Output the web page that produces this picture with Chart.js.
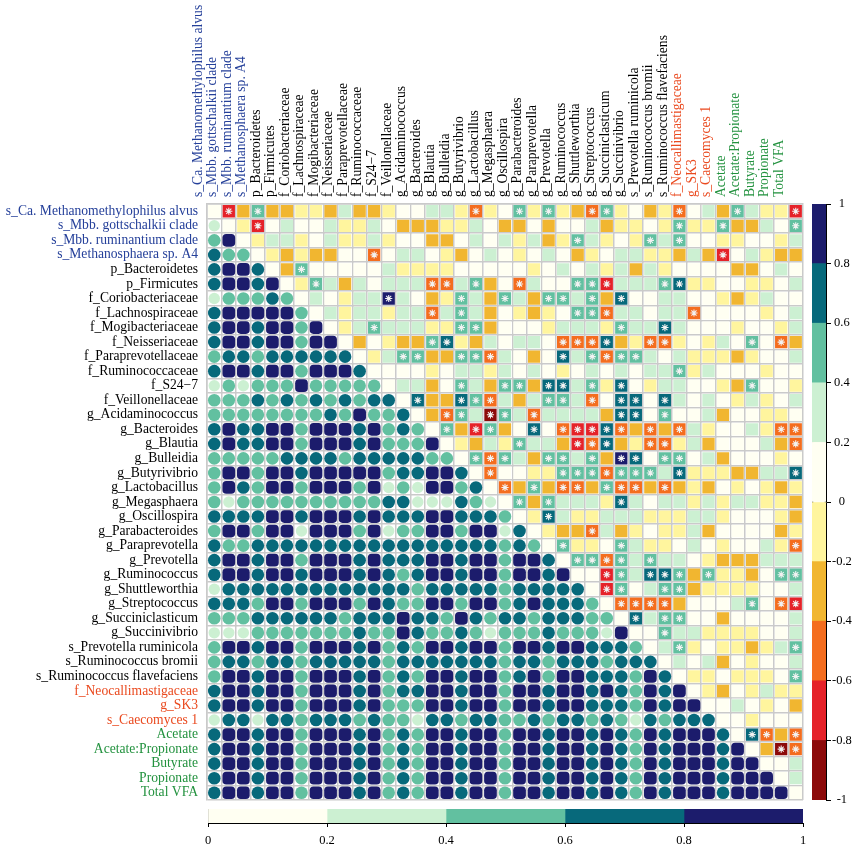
<!DOCTYPE html>
<html>
<head>
<meta charset="utf-8">
<script src="https://cdn.jsdelivr.net/npm/chart.js@4.4.1/dist/chart.umd.min.js"></script>
<style>
  html, body { margin: 0; padding: 0; background: #fff; }
  #wrap { position: relative; width: 856px; height: 848px; }
  #wrap canvas { position: absolute; }
</style>
</head>
<body>
<div id="wrap">
  <canvas id="matrixChart" width="856" height="848" style="left:0;top:0;width:856px;height:848px"></canvas>
  <canvas id="corrKey" width="56" height="625" style="left:800px;top:190px;width:56px;height:625px"></canvas>
  <canvas id="absKey" width="625" height="48" style="left:195px;top:800px;width:625px;height:48px"></canvas>
</div>
<script>
// Variables (rows and columns of the matrix)
const varNames = [
  's_Ca. Methanomethylophilus alvus', 's_Mbb. gottschalkii clade', 's_Mbb. ruminantium clade',
  's_Methanosphaera sp. A4', 'p_Bacteroidetes', 'p_Firmicutes', 'f_Coriobacteriaceae',
  'f_Lachnospiraceae', 'f_Mogibacteriaceae', 'f_Neisseriaceae', 'f_Paraprevotellaceae',
  'f_Ruminococcaceae', 'f_S24\u22127', 'f_Veillonellaceae', 'g_Acidaminococcus', 'g_Bacteroides',
  'g_Blautia', 'g_Bulleidia', 'g_Butyrivibrio', 'g_Lactobacillus', 'g_Megasphaera',
  'g_Oscillospira', 'g_Parabacteroides', 'g_Paraprevotella', 'g_Prevotella', 'g_Ruminococcus',
  'g_Shuttleworthia', 'g_Streptococcus', 'g_Succiniclasticum', 'g_Succinivibrio',
  's_Prevotella ruminicola', 's_Ruminococcus bromii', 's_Ruminococcus flavefaciens',
  'f_Neocallimastigaceae', 'g_SK3', 's_Caecomyces 1',
  'Acetate', 'Acetate:Propionate', 'Butyrate', 'Propionate', 'Total VFA'
];

// Upper triangle: correlation, row i holds columns i+1 .. 40
const corrUpper = [
  [-.7,-.3,.5,-.3,-.3,-.1,-.1,-.3,.3,-.3,-.3,-.1,.1,.1,.3,.3,-.1,-.5,-.1,.1,.5,-.1,.5,-.1,-.3,-.5,.5,-.1,.1,-.3,-.1,-.5,.1,.3,-.3,.5,.3,-.1,-.1,-.7],
  [-.1,-.7,.1,.3,.1,.1,.3,-.1,-.1,.3,.1,-.3,-.3,-.3,-.1,-.1,.3,.1,-.3,-.3,.1,-.3,.1,.1,.3,-.3,-.1,-.1,.1,-.1,.5,-.1,-.1,.5,-.3,-.3,.3,.1,.5],
  [-.1,.3,.3,-.1,.1,.3,-.1,-.1,.3,-.1,.1,.1,-.3,-.3,.1,.3,.1,.3,-.1,.3,-.3,-.1,.5,.3,-.1,.1,-.1,.5,.3,.5,.1,.1,-.1,-.1,.1,.1,-.1,.3],
  [-.1,-.3,-.1,-.3,-.3,.1,.1,-.5,.1,.3,.3,.1,-.1,-.3,.1,.3,.1,-.1,.1,.3,.1,-.3,-.1,.1,.3,.3,-.1,-.1,-.3,.3,-.3,-.7,.1,.3,-.1,-.3,-.3],
  [-.3,.5,.1,.1,.1,.1,.1,.3,-.1,-.1,-.1,-.1,.1,.1,.1,.1,.1,-.1,.1,.3,.1,.3,-.1,.3,-.3,.3,-.1,.1,.1,.1,.1,-.3,-.3,.1,.3,.1],
  [-.1,.5,.3,-.3,.3,.1,.3,.3,.3,-.5,-.5,.3,.5,-.3,.1,-.5,.3,.1,.1,.5,.5,-.7,.3,.3,.3,.5,.7,-.1,-.1,.1,.1,-.1,-.1,.1,.3],
  [.3,.1,-.1,.3,.3,.9,.3,.1,-.3,-.1,.5,.3,-.3,.5,.3,-.3,.5,.5,.3,.5,-.3,.7,.1,.1,.3,.3,.1,.1,-.1,-.3,-.1,.3,.1,.1],
  [.3,-.1,.3,.3,-.1,.3,.3,-.5,.3,.5,.3,-.3,.1,-.1,-.3,-.1,.1,.5,.5,-.5,.3,.3,.1,.3,.3,-.5,.1,.1,.1,.1,-.1,.1,.3],
  [-.1,.3,.5,.3,.3,.3,-.1,-.1,.5,.5,-.3,.1,.1,.1,-.1,.3,.3,.3,-.1,.5,.3,.3,.7,.3,.1,.1,.1,-.1,.1,.1,-.1,.3],
  [-.3,.1,-.1,-.3,-.3,.5,.7,-.1,-.3,.3,.1,.3,.3,.1,-.5,-.5,-.5,.7,-.3,-.1,-.5,-.5,-.1,.1,-.1,.3,.1,.5,.1,-.5,-.3],
  [-.1,.3,.5,.5,-.3,-.3,.5,.5,-.5,.3,.1,-.3,.1,.7,.3,.5,-.5,.5,.5,.3,.1,.3,-.1,-.1,-.1,-.3,-.1,.1,.1,.3],
  [.1,.1,.1,-.1,.1,.3,.3,-.1,.3,.1,.3,.1,-.1,.1,.3,.1,.3,.1,.3,.3,.5,-.1,.3,.1,.1,.1,-.1,.1,.1],
  [.3,.3,-.3,.1,.5,.3,-.3,.5,.5,-.3,.7,.7,.3,.5,-.1,.7,.1,-.1,.3,.3,.1,.1,-.1,-.3,.5,.1,.1,-.1],
  [.7,-.3,-.3,.7,.5,-.5,.3,-.3,.3,.5,.5,.3,-.5,.1,.7,.7,.1,.7,.3,.1,.3,.1,-.1,.3,-.1,.1,.3],
  [-.3,-.5,.5,.3,-.9,.5,.3,-.5,.3,.3,.3,.3,-.3,.7,.7,.1,.5,.1,.1,.3,-.3,.1,.1,-.1,-.1,.1],
  [.5,-.3,-.7,.5,-.3,.1,.7,.1,-.5,-.7,-.7,.7,-.5,-.3,-.5,-.3,-.5,.3,-.1,.1,.1,.3,-.1,-.5,-.5],
  [-.1,-.3,.3,-.1,.5,.3,.3,-.3,-.7,-.5,.7,-.3,-.1,-.5,-.5,-.1,.3,-.3,.1,.1,.1,.3,-.3,-.5],
  [.5,-.5,.5,.3,-.3,.5,.5,.3,.5,-.3,.9,.7,.1,.5,.5,.1,.3,-.3,.1,.1,.1,-.1,.1],
  [-.5,.1,.1,-.1,-.1,.5,.5,.5,-.5,.5,.5,.5,.3,.7,-.1,-.1,-.1,-.3,-.3,.3,.3,.7],
  [-.5,-.3,.5,-.3,-.5,-.5,-.3,.5,-.5,-.5,-.3,-.5,-.3,-.1,-.3,.1,-.1,.1,-.1,-.3,-.1],
  [.5,-.3,.5,.3,.3,.3,-.1,.7,.3,.1,.3,.3,-.1,.3,-.1,.3,.3,-.1,-.1,-.3],
  [-.1,.7,.3,-.1,-.1,.3,.3,.3,-.1,-.1,-.1,.3,.3,-.1,.1,.1,.1,-.1,-.3],
  [-.1,-.3,-.3,-.5,.3,-.3,-.1,.1,-.1,-.1,.3,-.3,.1,.1,.1,.1,-.3,-.1],
  [.5,-.1,-.1,.1,.5,.3,-.1,-.1,.1,.3,.1,-.1,.1,.1,.3,-.1,-.5],
  [.5,.5,-.5,.5,.3,.5,.3,.3,.1,-.1,-.3,-.3,-.3,.3,.3,.3],
  [.1,-.7,.5,.3,.7,.7,.5,-.3,.5,-.1,-.1,-.3,.1,.5,.5],
  [-.7,.5,.1,.3,.5,.5,-.3,-.1,-.1,-.1,-.1,.1,.1,.3],
  [-.5,-.5,-.5,-.5,-.3,.1,.1,.1,.3,.5,.1,-.5,-.7],
  [.7,.3,.5,.5,.1,.1,-.3,.1,.1,.1,.1,.3],
  [.1,.5,.3,.3,-.1,-.1,-.1,-.1,.1,.1,.3],
  [.3,.5,-.1,.1,-.1,-.1,-.3,-.1,.3,.5],
  [.3,.1,.3,-.3,.1,-.1,.1,.1,.3],
  [-.1,-.1,.1,-.1,-.1,-.1,.1,.5],
  [-.1,-.3,.1,-.1,.3,-.1,-.1],
  [.1,.3,.1,-.1,.1,-.3],
  [.1,-.1,.1,.1,.1],
  [.7,-.5,-.3,-.5],
  [-.3,-.9,-.5],
  [.1,.3],
  [.3],
  []
];

// Columns marked significant (*) in each row of the upper triangle
const sigCols = [
  [1,3,18,21,23,26,27,32,36,40], [3,32,35,40], [25,30,32], [11,35], [6],
  [7,15,16,18,21,25,26,27,31,32], [12,17,20,23,24,26,28], [15,17,25,26,27,33],
  [11,17,18,28,31], [15,16,24,25,26,27,30,31,37,39], [13,14,17,18,19,24,26,27,28,29],
  [32], [17,20,21,23,24,26,28,37], [14,17,18,19,23,24,26,28,29,31],
  [16,17,19,20,22,28,29,31], [16,18,19,22,24,25,26,27,28,30,32,39,40],
  [21,25,26,27,30,31,40], [18,19,20,23,24,26,28,29,31,32],
  [19,24,25,26,27,28,29,30,32,40], [20,22,24,25,27,28,29,31], [21,23,28], [23], [26],
  [24,28,40], [25,26,27,28,30], [27,28,30,31,32,34,39,40], [27,28,31,32],
  [28,29,30,31,37,39,40], [29,31,32], [31], [32,40], [], [40], [], [], [],
  [37,38,40], [39,40], [], [], []
];

// Lower triangle: second measure (0..1), row i holds columns 0 .. i-1
const corrLower = [
  [],
  [.3],
  [.5,.9],
  [.7,.5,.5],
  [.7,.9,.9,.7],
  [.7,.9,.9,.7,.9],
  [.3,.5,.5,.5,.7,.5],
  [.7,.9,.9,.9,.9,.9,.5],
  [.7,.9,.9,.7,.9,.9,.5,.9],
  [.7,.9,.9,.7,.9,.9,.5,.9,.9],
  [.5,.7,.7,.5,.7,.7,.7,.7,.7,.7],
  [.7,.9,.9,.7,.9,.9,.5,.9,.9,.9,.7],
  [.3,.5,.3,.5,.5,.5,.9,.5,.5,.5,.5,.5],
  [.5,.5,.5,.7,.5,.7,.5,.7,.5,.7,.5,.7,.7],
  [.5,.5,.5,.5,.5,.5,.5,.5,.7,.5,.9,.5,.5,.7],
  [.7,.9,.7,.7,.9,.9,.5,.9,.9,.9,.7,.9,.5,.7,.5],
  [.7,.9,.7,.7,.9,.9,.5,.9,.9,.9,.7,.9,.5,.5,.5,.9],
  [.5,.5,.5,.5,.5,.7,.7,.7,.7,.5,.7,.7,.7,.7,.7,.5,.5],
  [.5,.9,.9,.5,.9,.9,.7,.9,.9,.9,.9,.9,.5,.7,.7,.9,.9,.7],
  [.5,.9,.7,.5,.9,.9,.5,.9,.9,.9,.5,.9,.3,.5,.3,.9,.9,.5,.7],
  [.5,.3,.5,.5,.5,.5,.5,.5,.5,.5,.5,.5,.7,.7,.3,.3,.3,.7,.5,.3],
  [.7,.7,.7,.7,.9,.9,.7,.9,.9,.9,.7,.9,.7,.7,.7,.9,.9,.7,.7,.7,.5],
  [.5,.9,.9,.5,.9,.9,.3,.9,.9,.9,.5,.9,.3,.5,.5,.9,.9,.5,.9,.9,.3,.7],
  [.7,.5,.5,.7,.7,.7,.7,.7,.7,.7,.7,.7,.7,.7,.7,.7,.7,.7,.7,.7,.5,.7,.5],
  [.7,.9,.9,.7,.9,.9,.5,.9,.9,.9,.7,.9,.7,.7,.7,.9,.9,.7,.9,.9,.5,.9,.9,.7],
  [.7,.9,.9,.7,.9,.9,.7,.9,.9,.9,.7,.9,.7,.5,.7,.9,.9,.7,.9,.9,.5,.9,.9,.7,.9],
  [.3,.7,.7,.7,.7,.7,.7,.7,.7,.7,.7,.7,.7,.7,.5,.7,.7,.7,.7,.7,.5,.7,.7,.7,.7,.7],
  [.7,.7,.7,.5,.9,.9,.5,.9,.9,.9,.5,.9,.7,.5,.5,.9,.9,.5,.9,.9,.5,.7,.9,.7,.7,.7,.5],
  [.5,.5,.5,.7,.7,.7,.7,.7,.7,.5,.7,.7,.7,.9,.7,.7,.5,.9,.7,.5,.7,.7,.5,.7,.7,.7,.5,.5],
  [.3,.3,.3,.5,.5,.5,.5,.5,.5,.5,.7,.5,.5,.9,.7,.5,.5,.7,.5,.3,.5,.5,.5,.7,.5,.5,.5,.3,.9],
  [.5,.9,.9,.7,.9,.9,.5,.9,.9,.9,.7,.9,.5,.7,.5,.9,.9,.7,.9,.9,.5,.9,.9,.7,.9,.9,.7,.7,.7,.5],
  [.5,.7,.7,.5,.7,.7,.5,.7,.7,.7,.7,.7,.5,.7,.7,.7,.7,.7,.7,.7,.5,.7,.7,.5,.7,.7,.7,.5,.7,.7,.7],
  [.5,.9,.9,.7,.9,.9,.5,.9,.9,.9,.7,.9,.5,.7,.5,.9,.9,.7,.9,.9,.5,.7,.9,.5,.9,.9,.7,.7,.7,.5,.9,.7],
  [.7,.9,.9,.7,.9,.9,.5,.9,.9,.9,.7,.9,.5,.7,.7,.9,.9,.7,.9,.9,.5,.9,.9,.7,.9,.9,.7,.9,.7,.5,.9,.7,.9],
  [.7,.9,.9,.7,.9,.9,.5,.9,.9,.9,.7,.9,.5,.5,.5,.9,.9,.7,.9,.9,.5,.9,.9,.7,.9,.9,.7,.7,.7,.5,.9,.7,.9,.9],
  [.3,.7,.7,.3,.7,.7,.5,.7,.7,.7,.5,.7,.5,.5,.3,.7,.7,.5,.7,.7,.5,.5,.7,.5,.7,.7,.5,.7,.5,.3,.7,.5,.7,.7,.7],
  [.7,.9,.9,.7,.9,.9,.5,.9,.9,.9,.7,.9,.5,.7,.5,.9,.9,.7,.9,.9,.5,.9,.9,.7,.9,.9,.7,.9,.7,.5,.9,.7,.9,.9,.9,.7],
  [.7,.9,.9,.7,.9,.9,.5,.9,.9,.9,.7,.9,.5,.7,.5,.9,.9,.7,.9,.9,.5,.9,.9,.7,.9,.9,.7,.9,.7,.5,.9,.7,.9,.9,.9,.7,.9],
  [.7,.9,.9,.7,.9,.9,.5,.9,.9,.9,.7,.9,.5,.7,.5,.9,.9,.7,.9,.9,.5,.9,.9,.7,.9,.9,.7,.9,.7,.5,.9,.7,.9,.9,.9,.7,.9,.9],
  [.7,.9,.9,.7,.9,.9,.5,.9,.9,.9,.7,.9,.5,.7,.5,.9,.9,.7,.9,.9,.5,.9,.9,.7,.9,.9,.7,.9,.7,.5,.9,.7,.9,.9,.9,.7,.9,.9,.9],
  [.7,.9,.9,.7,.9,.9,.5,.9,.9,.9,.7,.9,.5,.7,.5,.9,.9,.7,.9,.9,.5,.9,.9,.7,.9,.9,.7,.9,.7,.5,.9,.7,.9,.9,.9,.7,.9,.9,.9,.9]
];

// Colour keys
const corrBreaks = [-1, -0.8, -0.6, -0.4, -0.2, 0, 0.2, 0.4, 0.6, 0.8, 1];
const corrColors = ['#8c0a0a', '#e52229', '#f46d1e', '#f1b630', '#fff59e',
                    '#fffff2', '#ccf0d2', '#62c0a0', '#07697b', '#1c1c6c'];
const absBreaks = [0, 0.2, 0.4, 0.6, 0.8, 1];
const absColors = corrColors.slice(5);

const serif = "'Times New Roman', 'Liberation Serif', serif";
const labelColors = varNames.map((n, i) =>
  i < 4 ? '#25409a' : i >= 36 ? '#23923f' : i >= 33 ? '#ea4a1f' : '#000');

function binColor(v, breaks, colors) {
  for (let k = 0; k < colors.length; k++) {
    if (v < breaks[k + 1]) return colors[k];
  }
  return colors[colors.length - 1];
}

// Build points
const upperPts = [], upperFill = [];
corrUpper.forEach((row, i) => row.forEach((v, k) => {
  upperPts.push({ x: varNames[i + 1 + k], y: varNames[i] });
  upperFill.push(binColor(v, corrBreaks, corrColors));
}));

const lowerPts = [], lowerFill = [], lowerStyle = [], lowerSize = [];
corrLower.forEach((row, i) => row.forEach((v, j) => {
  lowerPts.push({ x: varNames[j], y: varNames[i] });
  lowerFill.push(binColor(v, absBreaks, absColors));
  lowerStyle.push(v >= 0.8 ? 'rectRounded' : 'circle');
  lowerSize.push(v >= 0.8 ? 7.4 : v >= 0.4 ? 6.3 : v >= 0.2 ? 5.7 : 2);
}));

const starPts = [];
sigCols.forEach((cols, i) => cols.forEach(j => starPts.push({ x: varNames[j], y: varNames[i] })));

const diagPts = varNames.map(n => ({ x: n, y: n }));

// Correlation matrix
new Chart(document.getElementById('matrixChart'), {
  type: 'scatter',
  data: {
    datasets: [
      { data: starPts, pointStyle: 'star', pointRadius: 3.6, borderColor: '#f2f2f2',
        borderWidth: 1.1, backgroundColor: 'rgba(0,0,0,0)', order: 0 },
      { data: upperPts, pointStyle: 'rect', pointRadius: 8.7, backgroundColor: upperFill,
        borderWidth: 0, order: 1 },
      { data: diagPts, pointStyle: 'rect', pointRadius: 8.7, backgroundColor: '#fffff2',
        borderWidth: 0, order: 1 },
      { data: lowerPts, pointStyle: lowerStyle, pointRadius: lowerSize, backgroundColor: lowerFill,
        borderWidth: 0, order: 1 }
    ]
  },
  options: {
    responsive: false,
    animation: false,
    events: [],
    layout: { padding: { right: 53, bottom: 48 } },
    plugins: { legend: { display: false }, tooltip: { enabled: false } },
    scales: {
      x: {
        type: 'category', labels: varNames, position: 'top', offset: true,
        grid: { offset: true, color: '#cacaca', lineWidth: 1.5, drawTicks: false },
        border: { color: '#cacaca', width: 1.5 },
        ticks: { autoSkip: false, minRotation: 90, maxRotation: 90, padding: 7,
                 font: { family: serif, size: 13.6 }, color: c => labelColors[c.index] },
        afterFit: s => { s.height = 204; }
      },
      y: {
        type: 'category', labels: varNames, offset: true,
        grid: { offset: true, color: '#cacaca', lineWidth: 1.5, drawTicks: false },
        border: { color: '#cacaca', width: 1.5 },
        ticks: { autoSkip: false, padding: 9,
                 font: { family: serif, size: 13.6 }, color: c => labelColors[c.index] },
        afterFit: s => { s.width = 207; }
      }
    }
  }
});

function keyLabel(v) {
  return String(Math.round(v * 10) / 10);
}

// Correlation colour key (right)
new Chart(document.getElementById('corrKey'), {
  type: 'bar',
  data: {
    labels: ['r'],
    datasets: corrColors.map((c, k) => ({
      data: [[corrBreaks[k], corrBreaks[k + 1]]], backgroundColor: c, borderWidth: 0,
      grouped: false, barPercentage: 1, categoryPercentage: 1
    })).concat([{
      data: [[-1, 1]], backgroundColor: 'rgba(0,0,0,0)', borderColor: '#000', borderWidth: 1,
      borderSkipped: false, grouped: false, barPercentage: 1, categoryPercentage: 1
    }])
  },
  options: {
    responsive: false,
    animation: false,
    events: [],
    layout: { padding: { left: 12, top: 14, bottom: 15 } },
    plugins: { legend: { display: false }, tooltip: { enabled: false } },
    scales: {
      x: { display: false },
      y: {
        position: 'right', min: -1, max: 1,
        ticks: { stepSize: 0.2, padding: 1, crossAlign: 'center', color: '#000',
                 font: { family: serif, size: 12.5 }, callback: keyLabel },
        grid: { drawOnChartArea: false, color: '#000', tickLength: 5 },
        border: { color: '#000' },
        afterFit: s => { s.width = 30; }
      }
    }
  }
});

// Absolute value colour key (bottom)
new Chart(document.getElementById('absKey'), {
  type: 'bar',
  data: {
    labels: ['a'],
    datasets: absColors.map((c, k) => ({
      data: [[absBreaks[k], absBreaks[k + 1]]], backgroundColor: c, borderWidth: 0,
      grouped: false, barPercentage: 1, categoryPercentage: 1
    })).concat([{
      data: [[0, 1]], backgroundColor: 'rgba(0,0,0,0)', borderColor: '#000', borderWidth: 1,
      borderSkipped: false, grouped: false, barPercentage: 1, categoryPercentage: 1
    }])
  },
  options: {
    indexAxis: 'y',
    responsive: false,
    animation: false,
    events: [],
    layout: { padding: { left: 13, right: 17, top: 9 } },
    plugins: { legend: { display: false }, tooltip: { enabled: false } },
    scales: {
      y: { display: false },
      x: {
        position: 'bottom', min: 0, max: 1,
        ticks: { stepSize: 0.2, padding: 6, color: '#000', font: { family: serif, size: 12.5 }, callback: keyLabel },
        grid: { drawOnChartArea: false, color: '#000', tickLength: 4 },
        border: { color: '#000' },
        afterFit: s => { s.height = 25; }
      }
    }
  }
});
</script>
</body>
</html>
